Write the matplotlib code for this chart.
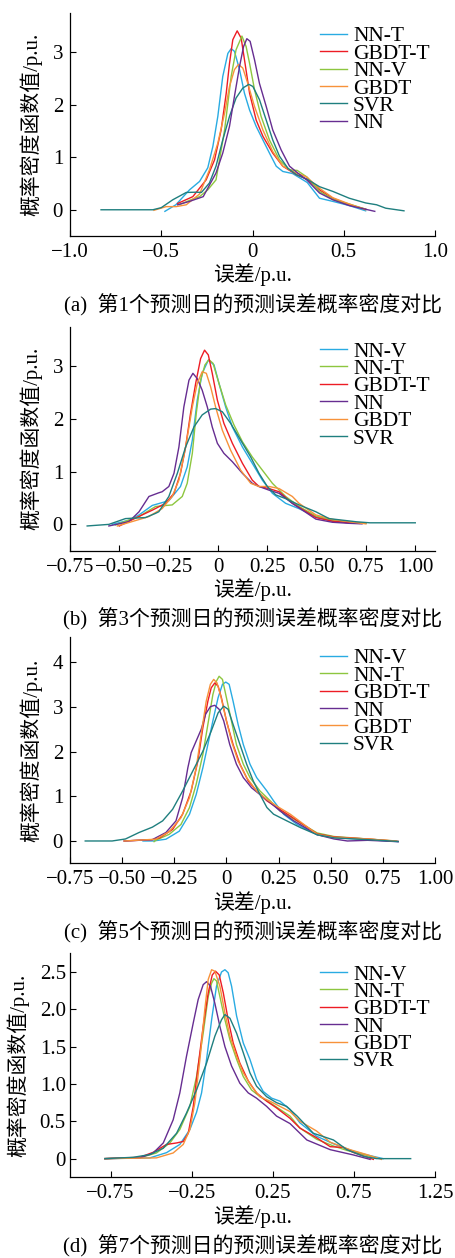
import matplotlib
matplotlib.use("Agg")
import matplotlib.pyplot as plt

plt.rcParams['font.family'] = ['Liberation Serif', 'Noto Sans CJK SC', 'DejaVu Sans']
plt.rcParams['axes.unicode_minus'] = True

BLUE = '#29abe2'; RED = '#ed1c24'; GREEN = '#8dc63f'
ORANGE = '#f7923a'; TEAL = '#1f7f7f'; PURPLE = '#662d91'

# ---------------- Panel (a): day 1 ----------------
A_NNT_X = [-0.48, -0.42, -0.345, -0.29, -0.245, -0.217, -0.19, -0.163, -0.135, -0.117, -0.099, -0.071, -0.044, -0.016, 0.02, 0.057, 0.093, 0.13, 0.166, 0.22, 0.30, 0.367, 0.44, 0.53, 0.62]
A_NNT_Y = [-0.03, 0.095, 0.38, 0.54, 0.80, 1.21, 1.78, 2.54, 2.98, 3.07, 3.02, 2.67, 2.22, 1.90, 1.59, 1.33, 1.08, 0.83, 0.73, 0.69, 0.52, 0.22, 0.16, 0.08, -0.02]
A_GBDTT_X = [-0.41, -0.327, -0.254, -0.208, -0.172, -0.144, -0.126, -0.108, -0.084, -0.062, -0.044, -0.016, 0.02, 0.057, 0.111, 0.166, 0.24, 0.30, 0.367, 0.44, 0.53, 0.62]
A_GBDTT_Y = [0.12, 0.25, 0.57, 0.95, 1.52, 2.22, 2.79, 3.24, 3.41, 3.27, 2.86, 2.22, 1.71, 1.40, 1.08, 0.83, 0.67, 0.58, 0.38, 0.22, 0.095, 0.013]
A_NNV_X = [-0.40, -0.33, -0.29, -0.245, -0.20, -0.181, -0.153, -0.135, -0.117, -0.09, -0.058, -0.035, -0.016, 0.011, 0.047, 0.093, 0.148, 0.203, 0.245, 0.30, 0.367, 0.44, 0.53, 0.62]
A_NNV_Y = [0.10, 0.20, 0.25, 0.38, 0.57, 0.95, 1.52, 2.03, 2.54, 3.05, 3.31, 3.11, 2.79, 2.29, 1.78, 1.33, 0.95, 0.76, 0.75, 0.62, 0.35, 0.20, 0.11, 0.01]
A_GBDT_X = [-0.54, -0.473, -0.418, -0.363, -0.29, -0.236, -0.19, -0.153, -0.126, -0.099, -0.077, -0.053, -0.026, 0.011, 0.057, 0.111, 0.166, 0.24, 0.294, 0.367, 0.44, 0.53, 0.62]
A_GBDT_Y = [-0.01, 0.06, 0.06, 0.095, 0.30, 0.76, 1.27, 1.84, 2.35, 2.67, 2.77, 2.70, 2.41, 1.97, 1.52, 1.11, 0.83, 0.70, 0.63, 0.41, 0.23, 0.11, 0.0]
A_SVR_X = [-0.83, -0.546, -0.50, -0.437, -0.363, -0.31, -0.28, -0.236, -0.20, -0.163, -0.126, -0.09, -0.053, -0.02, 0.002, 0.038, 0.075, 0.111, 0.148, 0.194, 0.24, 0.30, 0.367, 0.44, 0.53, 0.62, 0.68, 0.73, 0.83]
A_SVR_Y = [0.0, 0.0, 0.04, 0.19, 0.33, 0.335, 0.33, 0.51, 0.83, 1.33, 1.78, 2.13, 2.32, 2.39, 2.35, 2.10, 1.71, 1.33, 1.02, 0.79, 0.67, 0.58, 0.44, 0.35, 0.22, 0.13, 0.095, 0.03, -0.02]
A_NN_X = [-0.41, -0.345, -0.27, -0.2, -0.163, -0.126, -0.099, -0.071, -0.049, -0.031, -0.013, 0.011, 0.038, 0.075, 0.111, 0.157, 0.203, 0.248, 0.30, 0.367, 0.44, 0.53, 0.67]
A_NN_Y = [0.095, 0.16, 0.25, 0.70, 1.08, 1.59, 2.16, 2.73, 3.11, 3.26, 3.21, 2.86, 2.41, 1.97, 1.52, 1.14, 0.83, 0.70, 0.56, 0.32, 0.19, 0.08, -0.03]

# ---------------- Panel (b): day 3 ----------------
B_NNV_X = [-0.536, -0.45, -0.40, -0.333, -0.249, -0.19, -0.156, -0.13, -0.105, -0.08, -0.049, -0.02, 0.005, 0.039, 0.073, 0.124, 0.174, 0.225, 0.276, 0.343, 0.41, 0.496, 0.58, 0.665, 0.75]
B_NNV_Y = [0.0, 0.08, 0.18, 0.36, 0.45, 0.72, 1.09, 1.60, 2.36, 2.87, 3.12, 3.03, 2.68, 2.23, 1.85, 1.47, 1.16, 0.84, 0.59, 0.40, 0.30, 0.146, 0.06, 0.03, 0.02]
B_NNT_X = [-0.52, -0.40, -0.316, -0.232, -0.181, -0.156, -0.13, -0.11, -0.088, -0.066, -0.046, -0.025, 0.005, 0.039, 0.081, 0.124, 0.174, 0.225, 0.276, 0.343, 0.411, 0.496, 0.58, 0.665, 0.75]
B_NNT_Y = [-0.01, 0.15, 0.34, 0.37, 0.53, 0.78, 1.35, 2.11, 2.74, 3.03, 3.13, 3.06, 2.68, 2.27, 1.89, 1.57, 1.28, 1.03, 0.78, 0.53, 0.34, 0.16, 0.08, 0.04, 0.02]
B_GBDTT_X = [-0.50, -0.384, -0.333, -0.266, -0.223, -0.19, -0.164, -0.139, -0.113, -0.088, -0.068, -0.049, -0.029, -0.003, 0.03, 0.073, 0.124, 0.174, 0.208, 0.259, 0.31, 0.377, 0.496, 0.58, 0.665, 0.716]
B_GBDTT_Y = [-0.03, 0.18, 0.27, 0.40, 0.59, 0.97, 1.47, 2.11, 2.68, 3.15, 3.31, 3.22, 2.87, 2.36, 1.92, 1.54, 1.16, 0.84, 0.72, 0.68, 0.62, 0.40, 0.13, 0.06, 0.03, 0.02]
B_NN_X = [-0.553, -0.452, -0.40, -0.35, -0.30, -0.283, -0.249, -0.223, -0.198, -0.173, -0.147, -0.127, -0.105, -0.08, -0.054, -0.029, -0.003, 0.03, 0.073, 0.124, 0.174, 0.208, 0.259, 0.31, 0.377, 0.496, 0.58, 0.665, 0.73]
B_NN_Y = [-0.03, 0.05, 0.24, 0.53, 0.60, 0.62, 0.72, 0.97, 1.47, 2.23, 2.74, 2.87, 2.77, 2.55, 2.23, 1.85, 1.54, 1.35, 1.19, 0.97, 0.78, 0.72, 0.65, 0.59, 0.40, 0.10, 0.04, 0.02, 0.01]
B_GBDT_X = [-0.51, -0.384, -0.35, -0.283, -0.232, -0.198, -0.164, -0.13, -0.105, -0.08, -0.059, -0.037, -0.012, 0.022, 0.064, 0.115, 0.166, 0.208, 0.259, 0.31, 0.377, 0.411, 0.496, 0.58, 0.665, 0.75]
B_GBDT_Y = [-0.03, 0.11, 0.15, 0.30, 0.53, 0.84, 1.47, 2.23, 2.68, 2.90, 2.87, 2.61, 2.23, 1.79, 1.41, 1.03, 0.78, 0.72, 0.72, 0.68, 0.53, 0.40, 0.18, 0.095, 0.05, 0.01]
B_SVR_X = [-0.663, -0.553, -0.469, -0.367, -0.316, -0.30, -0.249, -0.206, -0.164, -0.122, -0.08, -0.037, -0.012, 0.022, 0.064, 0.115, 0.166, 0.208, 0.25, 0.293, 0.343, 0.411, 0.496, 0.563, 0.70, 0.77, 1.0]
B_SVR_Y = [-0.03, 0.0, 0.11, 0.13, 0.21, 0.24, 0.53, 0.97, 1.47, 1.85, 2.08, 2.19, 2.20, 2.14, 1.92, 1.60, 1.28, 0.97, 0.72, 0.56, 0.49, 0.37, 0.24, 0.11, 0.05, 0.03, 0.03]

# ---------------- Panel (c): day 5 ----------------
C_NNV_X = [-0.40, -0.35, -0.29, -0.226, -0.177, -0.145, -0.113, -0.089, -0.065, -0.04, -0.019, -0.003, 0.013, 0.032, 0.056, 0.081, 0.113, 0.145, 0.194, 0.226, 0.274, 0.339, 0.435, 0.516, 0.677, 0.823]
C_NNV_Y = [0.0, 0.0, 0.04, 0.22, 0.60, 1.04, 1.64, 2.16, 2.69, 3.21, 3.51, 3.56, 3.51, 3.13, 2.61, 2.16, 1.72, 1.42, 1.12, 0.90, 0.60, 0.37, 0.14, 0.075, 0.03, -0.015]
C_NNT_X = [-0.347, -0.339, -0.274, -0.218, -0.177, -0.145, -0.113, -0.089, -0.065, -0.048, -0.035, -0.019, 0.0, 0.024, 0.048, 0.081, 0.113, 0.161, 0.21, 0.258, 0.323, 0.435, 0.516, 0.677, 0.806]
C_NNT_Y = [-0.015, 0.015, 0.15, 0.37, 0.75, 1.27, 1.94, 2.61, 3.28, 3.58, 3.69, 3.62, 3.21, 2.69, 2.16, 1.72, 1.42, 1.12, 0.90, 0.67, 0.49, 0.18, 0.10, 0.045, 0.0]
C_GBDTT_X = [-0.49, -0.355, -0.32, -0.258, -0.21, -0.169, -0.137, -0.113, -0.089, -0.073, -0.056, -0.04, -0.024, 0.0, 0.032, 0.065, 0.105, 0.145, 0.194, 0.242, 0.306, 0.435, 0.516, 0.677, 0.823]
C_GBDTT_Y = [0.0, 0.03, 0.07, 0.26, 0.60, 1.12, 1.79, 2.54, 3.13, 3.43, 3.54, 3.47, 3.21, 2.69, 2.16, 1.72, 1.34, 1.12, 0.90, 0.75, 0.56, 0.16, 0.09, 0.045, -0.01]
C_NN_X = [-0.49, -0.355, -0.339, -0.29, -0.242, -0.21, -0.185, -0.169, -0.145, -0.121, -0.10, -0.077, -0.056, -0.035, -0.013, 0.016, 0.048, 0.081, 0.121, 0.161, 0.21, 0.258, 0.323, 0.435, 0.516, 0.58, 0.677, 0.823]
C_NN_Y = [0.0, 0.03, 0.07, 0.19, 0.45, 0.97, 1.64, 1.98, 2.24, 2.50, 2.84, 3.01, 3.04, 2.95, 2.69, 2.16, 1.72, 1.42, 1.19, 1.04, 0.86, 0.67, 0.45, 0.14, 0.045, 0.0, 0.015, -0.015]
C_GBDT_X = [-0.49, -0.339, -0.274, -0.218, -0.177, -0.145, -0.121, -0.097, -0.077, -0.061, -0.045, -0.029, -0.003, 0.024, 0.056, 0.097, 0.145, 0.194, 0.242, 0.306, 0.435, 0.516, 0.677, 0.815]
C_GBDT_Y = [0.0, 0.04, 0.21, 0.52, 0.97, 1.64, 2.39, 3.13, 3.51, 3.62, 3.54, 3.28, 2.76, 2.24, 1.79, 1.42, 1.12, 0.93, 0.78, 0.60, 0.15, 0.08, 0.045, 0.0]
C_SVR_X = [-0.677, -0.548, -0.484, -0.419, -0.355, -0.306, -0.258, -0.21, -0.161, -0.113, -0.073, -0.04, -0.013, 0.008, 0.032, 0.065, 0.097, 0.129, 0.161, 0.194, 0.226, 0.29, 0.355, 0.435, 0.516, 0.677, 0.823]
C_SVR_Y = [0.0, 0.0, 0.045, 0.19, 0.31, 0.45, 0.71, 1.12, 1.57, 2.01, 2.46, 2.87, 3.02, 2.95, 2.61, 2.16, 1.72, 1.34, 1.04, 0.75, 0.60, 0.45, 0.30, 0.14, 0.07, 0.03, -0.01]

# ---------------- Panel (d): day 7 ----------------
D_NNV_X = [-0.785, -0.508, -0.405, -0.323, -0.261, -0.22, -0.189, -0.158, -0.127, -0.097, -0.066, -0.045, -0.025, -0.004, 0.027, 0.068, 0.109, 0.15, 0.191, 0.243, 0.294, 0.356, 0.417, 0.52, 0.623, 0.746, 0.83, 0.93]
D_NNV_Y = [0.0, 0.01, 0.08, 0.19, 0.39, 0.62, 0.88, 1.33, 1.86, 2.31, 2.50, 2.53, 2.49, 2.31, 1.91, 1.55, 1.33, 1.06, 0.90, 0.81, 0.77, 0.66, 0.48, 0.30, 0.20, 0.10, 0.05, 0.0]
D_NNT_X = [-0.785, -0.569, -0.467, -0.384, -0.323, -0.261, -0.22, -0.179, -0.148, -0.127, -0.113, -0.097, -0.076, -0.045, -0.014, 0.027, 0.068, 0.119, 0.171, 0.232, 0.294, 0.356, 0.417, 0.52, 0.623, 0.707, 0.80, 0.89]
D_NNT_Y = [0.0, 0.013, 0.076, 0.21, 0.39, 0.70, 1.10, 1.68, 2.17, 2.35, 2.41, 2.38, 2.17, 1.86, 1.59, 1.33, 1.10, 0.92, 0.83, 0.75, 0.66, 0.57, 0.41, 0.26, 0.17, 0.11, 0.06, 0.01]
D_GBDTT_X = [-0.785, -0.569, -0.487, -0.405, -0.343, -0.302, -0.271, -0.24, -0.21, -0.179, -0.148, -0.123, -0.103, -0.08, -0.055, -0.025, 0.006, 0.047, 0.099, 0.15, 0.212, 0.273, 0.356, 0.417, 0.52, 0.604, 0.684, 0.75, 0.87]
D_GBDTT_Y = [0.0, 0.018, 0.085, 0.19, 0.21, 0.23, 0.34, 0.70, 1.24, 1.77, 2.22, 2.46, 2.51, 2.46, 2.22, 1.86, 1.55, 1.28, 1.04, 0.88, 0.77, 0.68, 0.54, 0.41, 0.28, 0.16, 0.15, 0.08, -0.01]
D_NN_X = [-0.785, -0.569, -0.487, -0.425, -0.364, -0.323, -0.282, -0.24, -0.21, -0.179, -0.158, -0.134, -0.107, -0.076, -0.045, -0.004, 0.047, 0.099, 0.15, 0.212, 0.273, 0.356, 0.46, 0.604, 0.746, 0.85]
D_NN_Y = [0.0, 0.01, 0.076, 0.21, 0.52, 0.88, 1.37, 1.82, 2.13, 2.33, 2.37, 2.31, 2.08, 1.77, 1.50, 1.24, 1.01, 0.88, 0.81, 0.70, 0.57, 0.47, 0.25, 0.12, 0.05, -0.01]
D_GBDT_X = [-0.785, -0.467, -0.364, -0.302, -0.261, -0.23, -0.199, -0.169, -0.148, -0.127, -0.107, -0.076, -0.045, -0.014, 0.027, 0.068, 0.119, 0.171, 0.232, 0.294, 0.356, 0.418, 0.52, 0.604, 0.726, 0.83, 0.92]
D_GBDT_Y = [0.0, 0.01, 0.076, 0.19, 0.39, 0.75, 1.33, 2.0, 2.40, 2.53, 2.51, 2.31, 1.95, 1.64, 1.37, 1.15, 0.97, 0.83, 0.77, 0.70, 0.63, 0.50, 0.37, 0.22, 0.12, 0.054, -0.01]
D_SVR_X = [-0.785, -0.61, -0.508, -0.425, -0.343, -0.282, -0.22, -0.158, -0.107, -0.066, -0.045, -0.014, 0.027, 0.068, 0.109, 0.15, 0.212, 0.273, 0.335, 0.40, 0.50, 0.624, 0.707, 0.81, 0.89, 1.10]
D_SVR_Y = [0.0, 0.018, 0.054, 0.14, 0.34, 0.61, 0.92, 1.28, 1.64, 1.86, 1.93, 1.88, 1.68, 1.42, 1.15, 0.97, 0.83, 0.75, 0.70, 0.57, 0.34, 0.25, 0.12, 0.03, 0.0, 0.0]

A_SERIES = [('NN-T', A_NNT_X, A_NNT_Y, BLUE), ('GBDT-T', A_GBDTT_X, A_GBDTT_Y, RED),
            ('NN-V', A_NNV_X, A_NNV_Y, GREEN), ('GBDT', A_GBDT_X, A_GBDT_Y, ORANGE),
            ('SVR', A_SVR_X, A_SVR_Y, TEAL), ('NN', A_NN_X, A_NN_Y, PURPLE)]
B_SERIES = [('NN-V', B_NNV_X, B_NNV_Y, BLUE), ('NN-T', B_NNT_X, B_NNT_Y, GREEN),
            ('GBDT-T', B_GBDTT_X, B_GBDTT_Y, RED), ('NN', B_NN_X, B_NN_Y, PURPLE),
            ('GBDT', B_GBDT_X, B_GBDT_Y, ORANGE), ('SVR', B_SVR_X, B_SVR_Y, TEAL)]
C_SERIES = [('NN-V', C_NNV_X, C_NNV_Y, BLUE), ('NN-T', C_NNT_X, C_NNT_Y, GREEN),
            ('GBDT-T', C_GBDTT_X, C_GBDTT_Y, RED), ('NN', C_NN_X, C_NN_Y, PURPLE),
            ('GBDT', C_GBDT_X, C_GBDT_Y, ORANGE), ('SVR', C_SVR_X, C_SVR_Y, TEAL)]
D_SERIES = [('NN-V', D_NNV_X, D_NNV_Y, BLUE), ('NN-T', D_NNT_X, D_NNT_Y, GREEN),
            ('GBDT-T', D_GBDTT_X, D_GBDTT_Y, RED), ('NN', D_NN_X, D_NN_Y, PURPLE),
            ('GBDT', D_GBDT_X, D_GBDT_Y, ORANGE), ('SVR', D_SVR_X, D_SVR_Y, TEAL)]

A_XTICKS = [-1.0, -0.5, 0.0, 0.5, 1.0]
A_XLABELS = ['\u22121.0', '\u22120.5', '0', '0.5', '1.0']
B_XTICKS = [-0.75, -0.5, -0.25, 0.0, 0.25, 0.5, 0.75, 1.0]
B_XLABELS = ['\u22120.75', '\u22120.50', '\u22120.25', '0', '0.25', '0.50', '0.75', '1.00']
D_XTICKS = [-0.75, -0.25, 0.25, 0.75, 1.25]
D_XLABELS = ['\u22120.75', '\u22120.25', '0.25', '0.75', '1.25']
A_YTICKS = [0, 1, 2, 3]
C_YTICKS = [0, 1, 2, 3, 4]
D_YTICKS = [0, 0.5, 1.0, 1.5, 2.0, 2.5]
D_YLABELS = ['0', '0.5', '1.0', '1.5', '2.0', '2.5']

CAPTIONS = ['(a)  第1个预测日的预测误差概率密度对比',
            '(b)  第3个预测日的预测误差概率密度对比',
            '(c)  第5个预测日的预测误差概率密度对比',
            '(d)  第7个预测日的预测误差概率密度对比']
XLABEL = '误差/p.u.'
YLABEL = '概率密度函数值/p.u.'

W, H = 455, 1258
fig = plt.figure(figsize=(W / 100, H / 100), dpi=100)

# panel layout in pixels: (left, top, right, bottom); ylabel right edge offset
PANELS = [
    (A_SERIES, (70, 13, 435, 236), (-1.0, 1.0), (-0.5, 3.75), A_XTICKS, A_XLABELS, A_YTICKS, None, 0.94, -0.077),
    (B_SERIES, (70, 327, 435, 550.7), (-0.75, 1.10), (-0.5, 3.75), B_XTICKS, B_XLABELS, A_YTICKS, None, 0.935, -0.077),
    (C_SERIES, (70, 637, 435, 863.3), (-0.75, 1.0), (-0.5, 4.57), B_XTICKS, B_XLABELS, C_YTICKS, None, 0.95, -0.077),
    (D_SERIES, (70, 953.3, 435, 1177.3), (-1.0, 1.25), (-0.25, 2.75), D_XTICKS, D_XLABELS, D_YTICKS, D_YLABELS, 0.95, -0.11),
]

FS = 15
LFS = 15.5
for i, (series, (l, t, r, b), xl, yl, xt, xtl, yt, ytl, legy, ylx) in enumerate(PANELS):
    ax = fig.add_axes([l / W, 1 - b / H, (r - l) / W, (b - t) / H])
    hpx = b - t
    for name, xs, ys, c in series:
        ax.plot(xs, ys, color=c, lw=1.0, label=name)
    ax.set_xlim(*xl)
    ax.set_ylim(*yl)
    ax.set_xticks(xt)
    ax.set_xticklabels(xtl)
    ax.set_yticks(yt)
    if ytl is not None:
        ax.set_yticklabels(ytl)
    for s in ('top', 'right'):
        ax.spines[s].set_visible(False)
    for s in ('left', 'bottom'):
        ax.spines[s].set_linewidth(0.9)
    ax.tick_params(direction='in', length=4, width=0.8, labelsize=FS, pad=5)
    if ytl is not None:
        ax.tick_params(axis='y', pad=3)
    ax.text(ylx, 0.5, YLABEL, transform=ax.transAxes, rotation=90,
            ha='right', va='center', fontsize=15)
    ax.text(0.5, -39 / hpx, XLABEL, transform=ax.transAxes, ha='center', va='center', fontsize=15)
    ax.text(0.5, -69 / hpx, CAPTIONS[i], transform=ax.transAxes, ha='center', va='center', fontsize=15)
    ax.legend(loc='upper left', bbox_to_anchor=(0.685, legy), frameon=False, fontsize=LFS,
              handlelength=1.25, handletextpad=0.28, labelspacing=-0.125,
              borderpad=0, borderaxespad=0)

fig.savefig('out.png', dpi=100)
